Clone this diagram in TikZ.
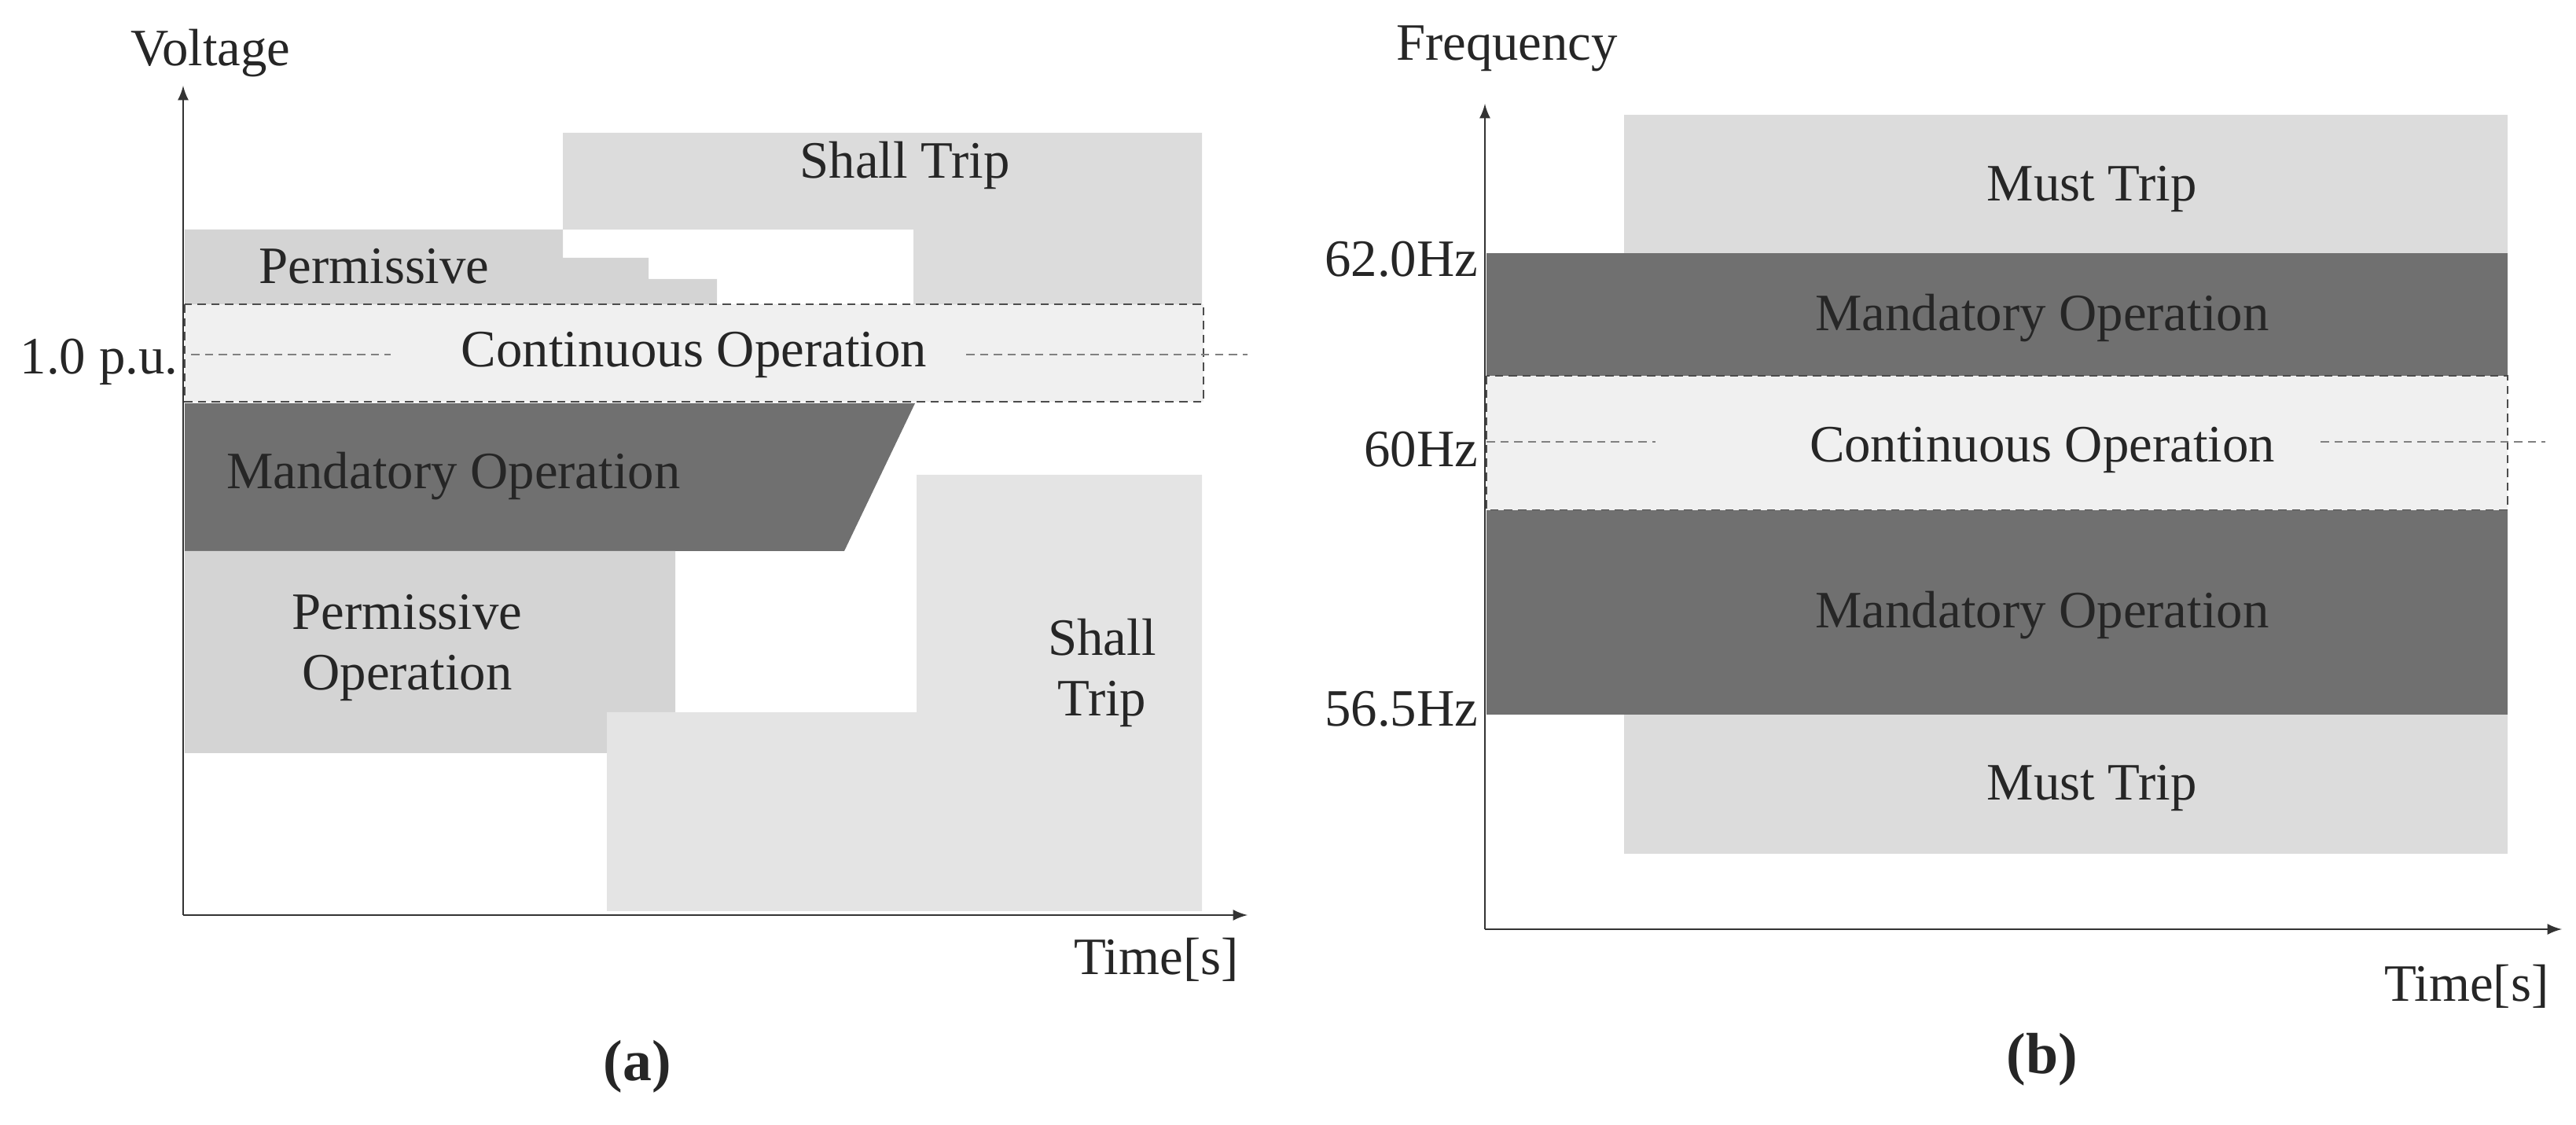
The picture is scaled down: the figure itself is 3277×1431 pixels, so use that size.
\documentclass[tikz,border=0pt]{standalone}
\usepackage{fontspec}
\setmainfont{Liberation Serif}
\begin{document}
\begin{tikzpicture}[x=0.01cm,y=-0.01cm,
  lbl/.style={font=\fontsize{19}{22}\selectfont, text=black!85, align=center, inner sep=0pt},
  axis/.style={-latex, line width=0.8pt, black!80},
  ref/.style={densely dashed, gray, line width=0.6pt}]
\definecolor{shall}{HTML}{DCDCDC}
\definecolor{shalllow}{HTML}{E4E4E4}
\definecolor{perm}{HTML}{D4D4D4}
\definecolor{cont}{HTML}{F0F0F0}
\definecolor{mand}{HTML}{707070}
\definecolor{must}{HTML}{DCDCDC}
\useasboundingbox (0,0) rectangle (3277,1431);
% ---------- panel (a)
\fill[shall] (716,169) -- (1529,169) -- (1529,387) -- (1162,387) -- (1162,292) -- (716,292) -- cycle;
\fill[perm] (235,292) -- (716,292) -- (716,328) -- (825,328) -- (825,355) -- (912,355) -- (912,387) -- (235,387) -- cycle;
\fill[cont] (235,387) rectangle (1531,511);
\draw[densely dashed, black!70, line width=0.7pt] (235,387) rectangle (1531,511);
\fill[mand] (235,513) -- (1164,513) -- (1074,701) -- (235,701) -- cycle;
\fill[perm] (235,701) -- (859,701) -- (859,906) -- (772,906) -- (772,958) -- (235,958) -- cycle;
\fill[shalllow] (1166,604) -- (1529,604) -- (1529,1159) -- (772,1159) -- (772,906) -- (1166,906) -- cycle;
\draw[ref] (243,451) -- (497,451);
\draw[ref] (1229,451) -- (1587,451);
\coordinate (ao) at (233,1164);
\coordinate (ay) at (233,109);
\coordinate (ax) at (1587,1164);
\draw[axis] (ao) -- (ay);
\draw[axis] (ao) -- (ax);
\node[lbl] (volt) at (268,68) {Voltage};
\node[lbl] (st1) at (1151,210) {Shall Trip};
\node[lbl] (pm1) at (476,339) {Permissive};
\node[lbl] (co1) at (883,451) {Continuous Operation};
\node[lbl, anchor=east] (pu) at (227,460) {1.0 p.u.};
\node[lbl] (mo1) at (577,606) {Mandatory Operation};
\node[lbl] (po1) at (518,824) {Permissive\\Operation};
\node[lbl] (st2) at (1402,856) {Shall\\Trip};
\node[lbl] (ta) at (1471,1221) {Time[s]};
\node[lbl, font=\fontsize{21}{24}\selectfont\bfseries] (capa) at (811,1357) {(a)};
% ---------- panel (b)
\fill[must] (2066,146) rectangle (3190,322);
\fill[mand] (1891,322) rectangle (3190,478);
\fill[cont] (1891,478) rectangle (3190,649);
\draw[densely dashed, black!70, line width=0.7pt] (1891,478) rectangle (3190,649);
\fill[mand] (1891,649) rectangle (3190,909);
\fill[must] (2066,909) rectangle (3190,1086);
\draw[ref] (1891,562) -- (2106,562);
\draw[ref] (2952,562) -- (3238,562);
\coordinate (bo) at (1889,1182);
\coordinate (by) at (1889,132);
\coordinate (bx) at (3259,1182);
\draw[axis] (bo) -- (by);
\draw[axis] (bo) -- (bx);
\node[lbl] (freq) at (1917,62) {Frequency};
\node[lbl, anchor=east] (f62) at (1881,330) {62.0Hz};
\node[lbl, anchor=east] (f60) at (1881,572) {60Hz};
\node[lbl, anchor=east] (f56) at (1881,902) {56.5Hz};
\node[lbl] (mt1) at (2661,241) {Must Trip};
\node[lbl] (mo2) at (2598,405) {Mandatory Operation};
\node[lbl] (co2) at (2598,572) {Continuous Operation};
\node[lbl] (mo3) at (2598,783) {Mandatory Operation};
\node[lbl] (mt2) at (2661,1002) {Must Trip};
\node[lbl, anchor=east] (tb) at (3243,1255) {Time[s]};
\node[lbl, font=\fontsize{21}{24}\selectfont\bfseries] (capb) at (2598,1348) {(b)};
\end{tikzpicture}
\end{document}
